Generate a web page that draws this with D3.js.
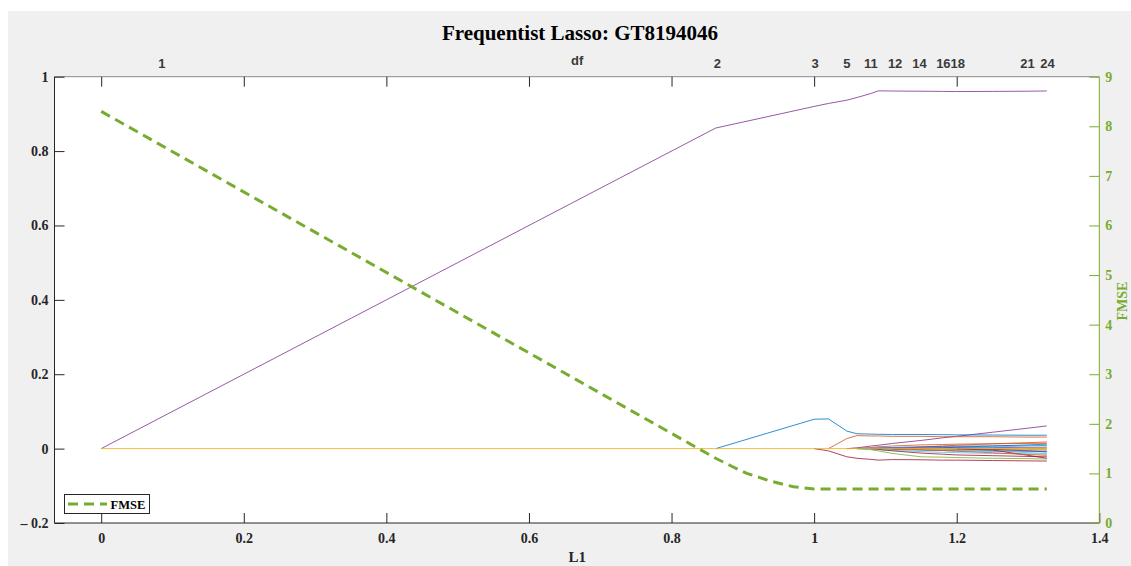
<!DOCTYPE html>
<html>
<head>
<meta charset="utf-8">
<script src="https://cdn.jsdelivr.net/npm/d3@7"></script>
<style>
  html, body { margin: 0; padding: 0; background: #ffffff; }
  svg { display: block; }
</style>
</head>
<body>
<svg id="chart" width="1131" height="566"></svg>
<script>
// ---------------- DATA ----------------
const chartTitle = "Frequentist Lasso: GT8194046";
const xTicks = [0, 0.2, 0.4, 0.6, 0.8, 1, 1.2, 1.4];
const yLeftTicks = [-0.2, 0, 0.2, 0.4, 0.6, 0.8, 1];
const yLeftTickLabels = ["\u2013 0.2", "0", "0.2", "0.4", "0.6", "0.8", "1"];
const yRightTicks = [0, 1, 2, 3, 4, 5, 6, 7, 8, 9];
const dfLabels = ["1", "2", "3", "5", "11", "12", "14", "16", "18", "21", "24"];
const dfPositions = [0.085, 0.8644, 1.0014, 1.0458, 1.0795, 1.1136, 1.1477, 1.1813, 1.2015, 1.2992, 1.3272];

// L1 norm knots shared by all coefficient traces
const l1Knots = [0, 0.862, 1.0, 1.02, 1.046, 1.06, 1.08, 1.09, 1.11, 1.15, 1.18, 1.2, 1.25, 1.3, 1.3264];

// coefficient traces (values at each knot)
const coefA = [0, 0.862, 0.920, 0.928, 0.937, 0.944, 0.955, 0.962, 0.9615, 0.961, 0.9605, 0.960, 0.9605, 0.961, 0.9616];
const coefB = [0, 0, 0.079, 0.080, 0.047, 0.040, 0.039, 0.0385, 0.038, 0.038, 0.0375, 0.037, 0.0365, 0.036, 0.036];
const coefC = [0, 0, 0, 0, 0.027, 0.035, 0.034, 0.034, 0.033, 0.033, 0.032, 0.032, 0.032, 0.031, 0.031];
const coefD = [0, 0, 0, -0.006, -0.022, -0.026, -0.029, -0.031, -0.0295, -0.030, -0.031, -0.031, -0.032, -0.033, -0.0335];
const coefE = [0, 0, 0, 0, 0, 0.002, 0.007, 0.009, 0.014, 0.022, 0.029, 0.033, 0.044, 0.055, 0.061];
const coefF = [0, 0, 0, 0, 0, 0, -0.003, -0.006, -0.013, -0.022, -0.023, -0.024, -0.026, -0.027, -0.028];
const coefG = [0, 0, 0, 0, 0, 0, -0.002, -0.003, -0.005, -0.008, -0.010, -0.011, -0.013, -0.014, -0.015];
const coefH = [0, 0, 0, 0, 0, 0.001, 0.003, 0.005, 0.007, 0.010, 0.011, 0.012, 0.013, 0.014, 0.0143];
const coefI = [0, 0, 0, 0, 0, 0, 0.001, 0.002, 0.003, 0.005, 0.006, 0.0065, 0.007, 0.008, 0.008];
const coefJ = [0, 0, 0, 0, 0, 0, 0, 0.001, 0.001, 0.002, 0.0025, 0.003, 0.003, 0.0035, 0.0036];
const coefK = [0, 0, 0, 0, 0, 0, 0, -0.002, -0.006, -0.012, -0.015, -0.017, -0.019, -0.021, -0.022];
const coefL = [0, 0, 0, 0, 0, 0, 0, 0, -0.002, -0.004, -0.005, -0.006, -0.0065, -0.007, -0.0075];
const coefM = [0, 0, 0, 0, 0, 0, 0, 0, 0, -0.0005, -0.001, -0.001, -0.001, -0.001, -0.001];
const coefN = [0, 0, 0, 0, 0, 0, 0, 0, 0, 0.004, 0.007, 0.009, 0.013, 0.016, 0.018];
const coefO = [0, 0, 0, 0, 0, 0, 0, 0, 0, -0.003, -0.005, -0.007, -0.011, -0.016, -0.018];
const coefP = [0, 0, 0, 0, 0, 0, 0, 0, 0, 0, 0.002, 0.004, 0.007, 0.010, 0.012];
const coefQ = [0, 0, 0, 0, 0, 0, 0, 0, 0, 0, -0.001, -0.002, -0.003, -0.004, -0.004];
const coefR = [0, 0, 0, 0, 0, 0, 0, 0, 0, 0, 0, 0.001, 0.004, 0.008, 0.010];
const coefS = [0, 0, 0, 0, 0, 0, 0, 0, 0, 0, 0, -0.002, -0.006, -0.011, -0.013];
const coefT = [0, 0, 0, 0, 0, 0, 0, 0, 0, 0, 0, 0, 0, 0.001, 0.002];
const coefU = [0, 0, 0, 0, 0, 0, 0, 0, 0, 0, 0, 0, -0.004, -0.018, -0.026];
const coefV = [0, 0, 0, 0, 0, 0, 0, 0, 0, 0, 0, 0, -0.002, -0.006, -0.009];
const coefW = [0, 0, 0, 0, 0, 0, 0, 0, 0, 0, 0, 0, 0, 0, 0.001];
const coefX = [0, 0, 0, 0, 0, 0, 0, 0, 0, 0, 0, 0, 0, 0, 0];
const coefTraces = [coefE, coefB, coefC, coefN, coefF, coefG, coefD, coefI, coefH, coefP, coefJ, coefQ, coefR, coefK,
                    coefL, coefS, coefM, coefT, coefU, coefV, coefW, coefO, coefA];

// FMSE curve (right axis)
const fmseL1 = [0, 0.839, 0.8626, 0.885, 0.9056, 0.94, 0.971, 1.0, 1.02, 1.3264];
const fmseValues = [8.30, 1.49, 1.30, 1.14, 1.00, 0.84, 0.73, 0.686, 0.685, 0.686];

// ---------------- STYLE / LAYOUT ----------------
const traceColors = ["#7E2F8E", "#0072BD", "#D95319", "#D95319", "#77AC30", "#4DBEEE", "#A2142F", "#0072BD",
                     "#D95319", "#0072BD", "#7E2F8E", "#77AC30", "#4DBEEE", "#A2142F",
                     "#0072BD", "#4DBEEE", "#D95319", "#EDB120", "#A2142F", "#7E2F8E", "#77AC30", "#D95319", "#7E2F8E"];
const green = "#77AC30";
const axisDark = "#262626";
const serif = "'Liberation Serif', 'Times New Roman', serif";
const sans = "'Liberation Sans', Arial, Helvetica, sans-serif";

const pL = 54.5, pR = 1099.3, pT = 76.7, pB = 523;
const svg = d3.select("#chart");

svg.append("rect").attr("x", 8).attr("y", 11).attr("width", 1131 - 8).attr("height", 566 - 11).attr("fill", "#f0f0f0");
svg.append("rect").attr("x", pL).attr("y", pT).attr("width", pR - pL).attr("height", pB - pT).attr("fill", "#ffffff");

const x = d3.scaleLinear().domain([-0.0655, 1.4]).range([pL, pR]);
const yL = d3.scaleLinear().domain([-0.2, 1]).range([pB, pT]);
const yR = d3.scaleLinear().domain([0, 9]).range([pB, pT]);

svg.append("clipPath").attr("id", "clip").append("rect")
  .attr("x", pL).attr("y", pT).attr("width", pR - pL).attr("height", pB - pT);

const lineL = d3.line().x(d => x(d[0])).y(d => yL(d[1]));
const lines = svg.append("g").attr("clip-path", "url(#clip)");
coefTraces.forEach((tr, k) => {
  const pts = tr.map((v, i) => [l1Knots[i], v]);
  // the part of a trace before it enters lies on zero, hidden under the zero line
  let first = tr.findIndex(v => v !== 0);
  if (first < 0) return;
  const seg = pts.slice(Math.max(0, first - 1));
  lines.append("path").attr("d", lineL(seg)).attr("fill", "none")
    .attr("stroke", traceColors[k]).attr("stroke-width", 1).attr("stroke-opacity", 0.8)
    .attr("stroke-linejoin", "round");
});
// a coefficient that never enters, drawn along zero as in the reference
lines.append("path").attr("d", lineL(coefX.map((v, i) => [l1Knots[i], v]))).attr("fill", "none")
  .attr("stroke", "#EDB120").attr("stroke-width", 1).attr("stroke-opacity", 0.85);

const lineR = d3.line().x((d, i) => x(fmseL1[i])).y(d => yR(d));
lines.append("path").attr("d", lineR(fmseValues)).attr("fill", "none")
  .attr("stroke", green).attr("stroke-width", 3).attr("stroke-dasharray", "10,6");

// ---------------- AXES ----------------
const gB = svg.append("g").attr("transform", `translate(0,${pB})`)
  .call(d3.axisBottom(x).tickValues(xTicks).tickSize(-10).tickPadding(10).tickFormat(d3.format("~g")));
gB.select(".domain").attr("stroke", axisDark).attr("d", `M${pL},0H${pR}`);
gB.selectAll(".tick line").attr("stroke", axisDark);
gB.selectAll(".tick text").attr("font-family", serif).attr("font-weight", "bold").attr("font-size", 14).attr("fill", axisDark);

const gT = svg.append("g").attr("transform", `translate(0,${pT})`)
  .call(d3.axisTop(x).tickValues(xTicks.filter(v => v < 1.4)).tickSize(-10).tickFormat(""));
gT.select(".domain").attr("stroke", "#8a8a8a").attr("d", `M${pL},0H${pR}`);
gT.selectAll(".tick line").attr("stroke", axisDark);
svg.append("g").selectAll("text").data(dfLabels).join("text")
  .attr("x", (d, i) => x(dfPositions[i])).attr("y", 68)
  .attr("text-anchor", "middle").attr("font-family", sans).attr("font-weight", "bold")
  .attr("font-size", 13).attr("fill", "#3a3a3a")
  .text(d => d);
svg.append("text").attr("x", x(0.6676)).attr("y", 65).attr("text-anchor", "middle")
  .attr("font-family", sans).attr("font-weight", "bold").attr("font-size", 13).attr("fill", "#3a3a3a").text("df");

const gL = svg.append("g").attr("transform", `translate(${pL},0)`)
  .call(d3.axisLeft(yL).tickValues(yLeftTicks).tickSize(-10).tickPadding(6)
    .tickFormat((d, i) => yLeftTickLabels[i]));
gL.select(".domain").attr("stroke", axisDark).attr("d", `M0,${pB}V${pT}`);
gL.selectAll(".tick line").attr("stroke", axisDark);
gL.selectAll(".tick text").attr("font-family", serif).attr("font-weight", "bold").attr("font-size", 14).attr("fill", axisDark);

const gR = svg.append("g").attr("transform", `translate(${pR},0)`)
  .call(d3.axisRight(yR).tickValues(yRightTicks).tickSize(-10).tickPadding(6));
gR.select(".domain").attr("stroke", green).attr("d", `M0,${pB}V${pT}`);
gR.selectAll(".tick line").attr("stroke", green);
gR.selectAll(".tick text").attr("font-family", serif).attr("font-weight", "bold").attr("font-size", 14).attr("fill", green);

svg.append("text").attr("x", x(0.6676)).attr("y", 562).attr("text-anchor", "middle")
  .attr("font-family", serif).attr("font-weight", "bold").attr("font-size", 15).attr("fill", axisDark).text("L1");
svg.append("text").attr("transform", "translate(1127,301) rotate(-90)").attr("text-anchor", "middle")
  .attr("font-family", serif).attr("font-weight", "bold").attr("font-size", 14).attr("fill", green).text("FMSE");
svg.append("text").attr("x", 580).attr("y", 40).attr("text-anchor", "middle")
  .attr("font-family", serif).attr("font-weight", "bold").attr("font-size", 21).attr("fill", "#000").text(chartTitle);

// legend
const lg = svg.append("g");
lg.append("rect").attr("x", 64.5).attr("y", 494.5).attr("width", 85).attr("height", 19)
  .attr("fill", "#ffffff").attr("stroke", axisDark).attr("stroke-width", 1);
lg.append("line").attr("x1", 68).attr("x2", 107).attr("y1", 504).attr("y2", 504)
  .attr("stroke", green).attr("stroke-width", 3).attr("stroke-dasharray", "10,6");
lg.append("text").attr("x", 110.5).attr("y", 508.5).attr("font-family", serif).attr("font-weight", "bold")
  .attr("font-size", 12.5).attr("fill", "#000").text("FMSE");
</script>
</body>
</html>
